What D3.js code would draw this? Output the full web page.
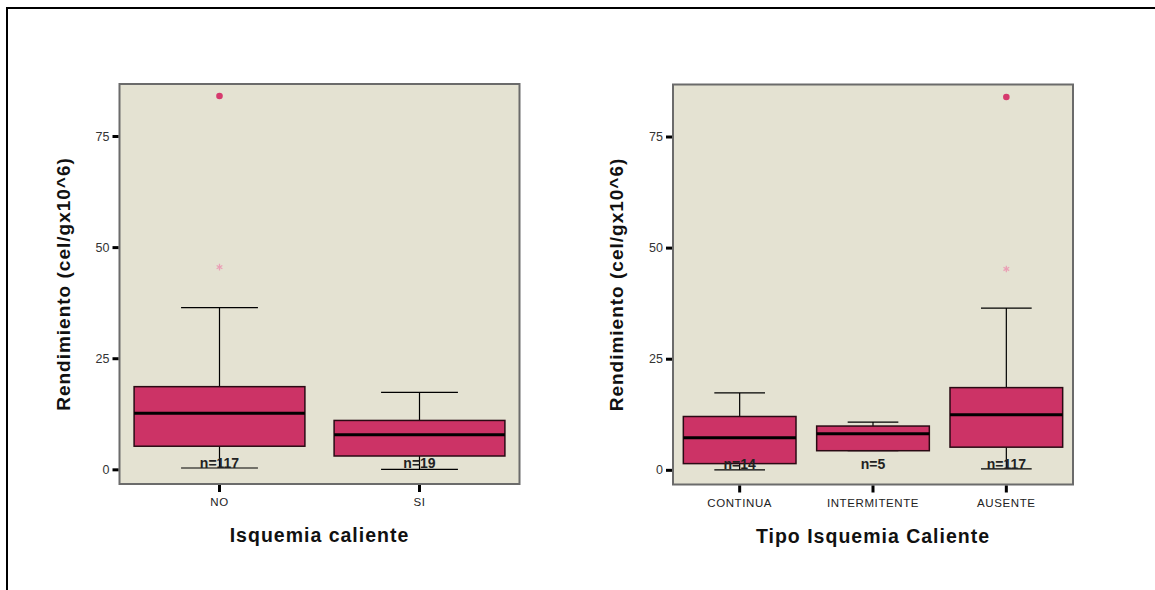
<!DOCTYPE html>
<html>
<head>
<meta charset="utf-8">
<script src="https://cdn.jsdelivr.net/npm/d3@7"></script>
<style>
  body { margin: 0; background: #fff; }
  text { font-family: Arial, "Liberation Sans", sans-serif; }
</style>
</head>
<body>
<div id="chart"></div>
<script>
// panel 1 : Isquemia caliente
var cats1 = ['NO', 'SI'];
var low1 = [0.3, 0];
var q1_1 = [5.2, 3.0];
var med1 = [12.6, 7.8];
var q3_1 = [18.6, 11.0];
var high1 = [36.4, 17.3];
var outl1 = [[84.0], []];
var extr1 = [[45.5], []];
var n1 = [117, 19];

// panel 2 : Tipo Isquemia Caliente
var cats2 = ['CONTINUA', 'INTERMITENTE', 'AUSENTE'];
var low2 = [0, 4.3, 0.2];
var q1_2 = [1.4, 4.3, 5.1];
var med2 = [7.2, 8.1, 12.4];
var q3_2 = [12.0, 9.85, 18.5];
var high2 = [17.3, 10.75, 36.4];
var outl2 = [[], [], [83.9]];
var extr2 = [[], [], [45.2]];
var n2 = [14, 5, 117];

var yTicks = [0, 25, 50, 75];

var width = 1155, height = 590;
var svg = d3.select('#chart').append('svg')
    .attr('width', width)
    .attr('height', height);

// outer frame (runs off the page at right and bottom)
svg.append('rect')
    .attr('x', 7).attr('y', 8)
    .attr('width', 1200).attr('height', 650)
    .attr('fill', 'none')
    .attr('stroke', '#000')
    .attr('stroke-width', 2);

function panel(opt) {
    var left = opt.left, top = opt.top, w = 400, h = 400;
    var g = svg.append('g');

    var x = d3.scaleBand()
        .domain(opt.cats)
        .range([left, left + w])
        .paddingInner(opt.pad)
        .paddingOuter(opt.pad / 2);
    var y = d3.scaleLinear()
        .domain([-3.3, 86.7])
        .range([top + h, top]);

    g.append('rect')
        .attr('x', left).attr('y', top)
        .attr('width', w).attr('height', h)
        .attr('fill', '#e4e2d2')
        .attr('stroke', '#6b6b6b')
        .attr('stroke-width', 2);

    // axes
    var yAxis = d3.axisLeft(y).tickValues(yTicks).tickSize(6).tickPadding(3);
    var ya = g.append('g')
        .attr('transform', 'translate(' + (left - 1) + ',0)')
        .call(yAxis);
    ya.select('.domain').remove();
    ya.selectAll('line').attr('stroke', '#000').attr('stroke-width', 3);
    ya.selectAll('text').attr('font-size', 12.5).attr('fill', '#333');

    var xAxis = d3.axisBottom(x).tickSize(7).tickPadding(6);
    var xa = g.append('g')
        .attr('transform', 'translate(0,' + (top + h + 1) + ')')
        .call(xAxis);
    xa.select('.domain').remove();
    xa.selectAll('line').attr('stroke', '#000').attr('stroke-width', 3);
    xa.selectAll('text').attr('font-size', 11.5).attr('fill', '#222')
        .attr('letter-spacing', '0.6px');

    var bw = x.bandwidth();
    var cw = bw * 0.45;
    opt.cats.forEach(function (c, i) {
        var cx = x(c) + bw / 2;
        // whiskers
        g.append('line')
            .attr('x1', cx).attr('x2', cx)
            .attr('y1', y(opt.high[i])).attr('y2', y(opt.q3[i]))
            .attr('stroke', '#000').attr('stroke-width', 1.2);
        g.append('line')
            .attr('x1', cx).attr('x2', cx)
            .attr('y1', y(opt.q1[i])).attr('y2', y(opt.low[i]))
            .attr('stroke', '#000').attr('stroke-width', 1.2);
        [opt.high[i], opt.low[i]].forEach(function (v) {
            g.append('line')
                .attr('x1', cx - cw / 2).attr('x2', cx + cw / 2)
                .attr('y1', y(v)).attr('y2', y(v))
                .attr('stroke', '#000').attr('stroke-width', 1.2);
        });
        // box
        g.append('rect')
            .attr('x', x(c)).attr('y', y(opt.q3[i]))
            .attr('width', bw).attr('height', y(opt.q1[i]) - y(opt.q3[i]))
            .attr('fill', '#cc3366')
            .attr('stroke', '#2a0a14')
            .attr('stroke-width', 1.5);
        g.append('line')
            .attr('x1', x(c)).attr('x2', x(c) + bw)
            .attr('y1', y(opt.med[i])).attr('y2', y(opt.med[i]))
            .attr('stroke', '#000').attr('stroke-width', 3);
        // outliers
        opt.outl[i].forEach(function (v) {
            g.append('circle')
                .attr('cx', cx).attr('cy', y(v))
                .attr('r', 3.3)
                .attr('fill', '#d63a6e');
        });
        opt.extr[i].forEach(function (v) {
            g.append('path')
                .attr('transform', 'translate(' + cx + ',' + y(v) + ')')
                .attr('d', d3.symbol().type(d3.symbolAsterisk).size(30)())
                .attr('fill', 'none')
                .attr('stroke', '#eaa0b6')
                .attr('stroke-width', 1.3);
        });
        // n label
        g.append('text')
            .attr('x', cx).attr('y', y(0) - 1)
            .attr('text-anchor', 'middle')
            .attr('font-size', 14)
            .attr('font-weight', 'bold')
            .attr('fill', '#222')
            .text('n=' + opt.n[i]);
    });

    // titles
    g.append('text')
        .attr('transform', 'translate(' + (left - 50) + ',' + (top + h / 2) + ') rotate(-90)')
        .attr('text-anchor', 'middle')
        .attr('font-size', 19)
        .attr('font-weight', 'bold')
        .attr('letter-spacing', '1px')
        .attr('fill', '#111')
        .text('Rendimiento (cel/gx10^6)');
    g.append('text')
        .attr('x', left + w / 2).attr('y', top + h + 58)
        .attr('text-anchor', 'middle')
        .attr('font-size', 19.5)
        .attr('font-weight', 'bold')
        .attr('letter-spacing', '1px')
        .attr('fill', '#111')
        .text(opt.title);
}

panel({left: 119.5, top: 84, cats: cats1, pad: 0.146,
       low: low1, q1: q1_1, med: med1, q3: q3_1, high: high1,
       outl: outl1, extr: extr1, n: n1, title: 'Isquemia caliente'});
panel({left: 673, top: 84.5, cats: cats2, pad: 0.155,
       low: low2, q1: q1_2, med: med2, q3: q3_2, high: high2,
       outl: outl2, extr: extr2, n: n2, title: 'Tipo Isquemia Caliente'});
</script>
</body>
</html>
